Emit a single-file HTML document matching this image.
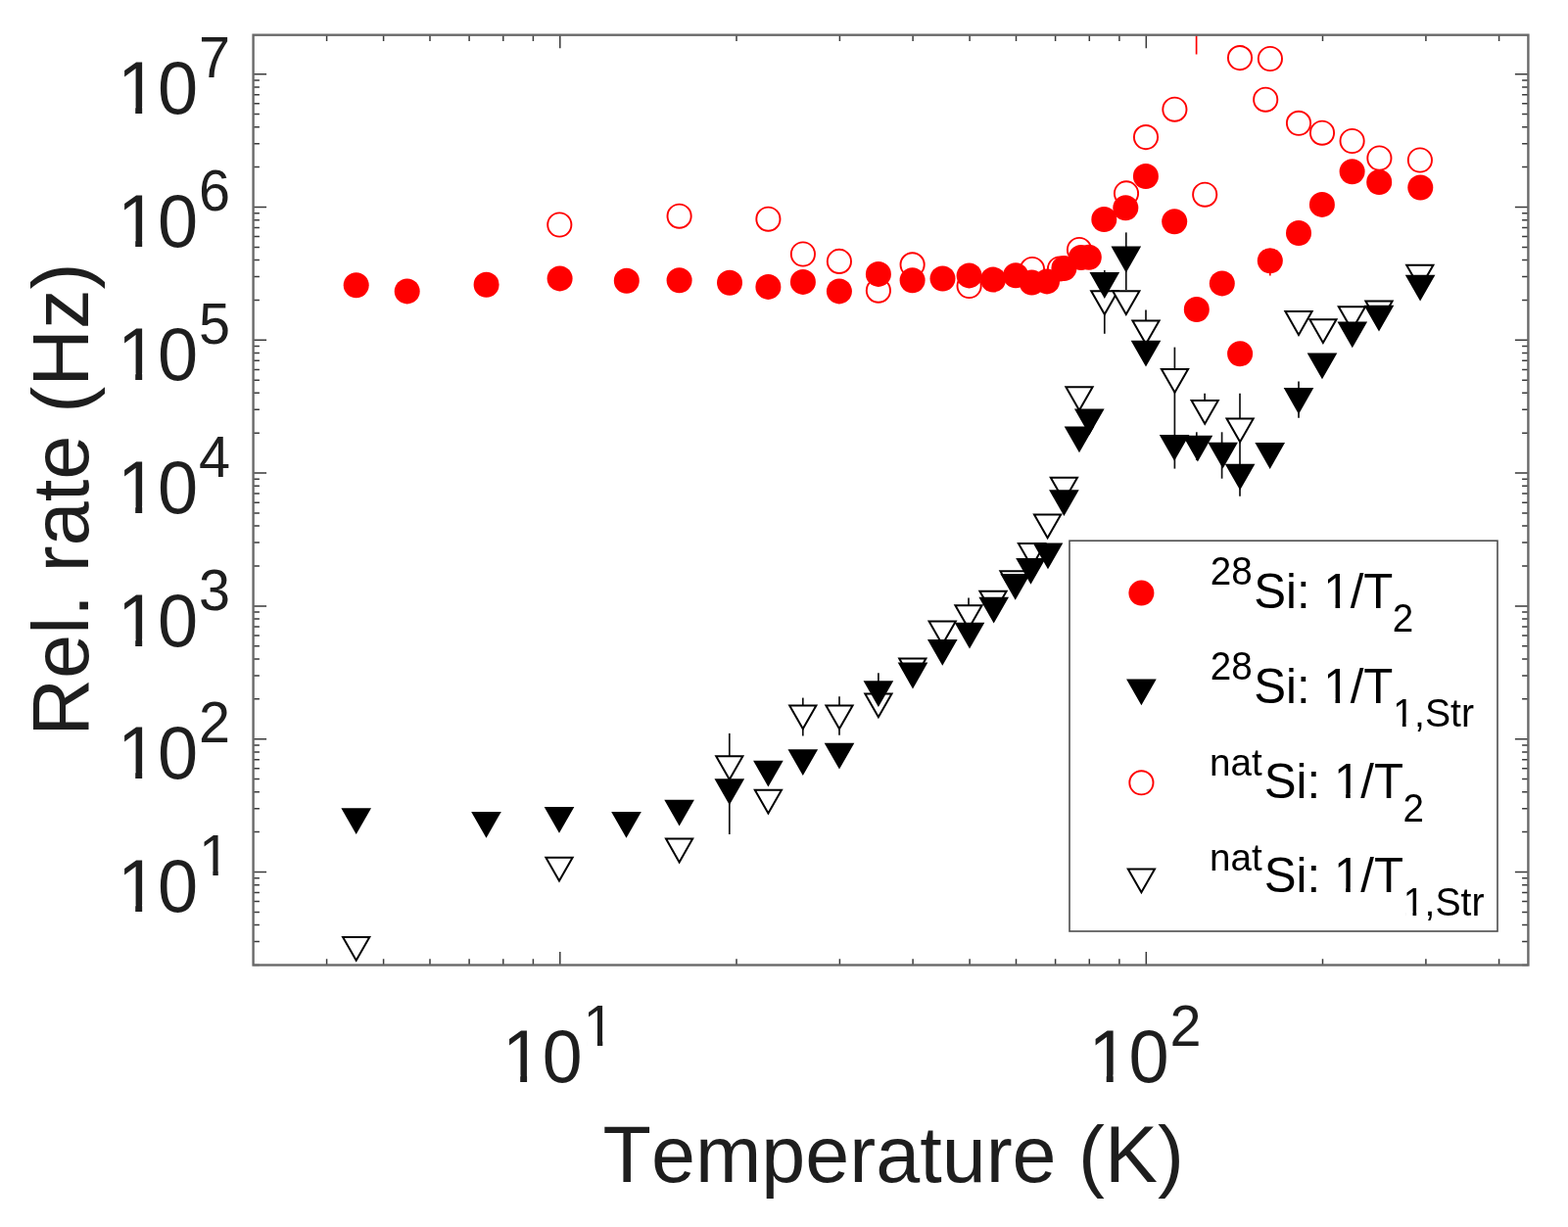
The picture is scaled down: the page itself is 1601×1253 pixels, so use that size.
<!DOCTYPE html>
<html><head><meta charset="utf-8"><title>Rel. rate vs Temperature</title>
<style>html,body{margin:0;padding:0;background:#fff;overflow:hidden;}svg{display:block;}text{font-family:"Liberation Sans",Arial,Helvetica,sans-serif;font-kerning:none;font-feature-settings:"kern" 0;}</style></head><body>
<svg width="1601" height="1253" viewBox="0 0 1601 1253">
<rect x="0" y="0" width="1601" height="1253" fill="#fff"/>
<path d="M333.6 985.5V979.2M333.6 35.7V42.0M391.6 985.5V979.2M391.6 35.7V42.0M439.0 985.5V979.2M439.0 35.7V42.0M479.1 985.5V979.2M479.1 35.7V42.0M513.8 985.5V979.2M513.8 35.7V42.0M544.4 985.5V979.2M544.4 35.7V42.0M571.8 985.5V972.0M571.8 35.7V49.2M752.0 985.5V979.2M752.0 35.7V42.0M857.4 985.5V979.2M857.4 35.7V42.0M932.1 985.5V979.2M932.1 35.7V42.0M990.1 985.5V979.2M990.1 35.7V42.0M1037.5 985.5V979.2M1037.5 35.7V42.0M1077.6 985.5V979.2M1077.6 35.7V42.0M1112.3 985.5V979.2M1112.3 35.7V42.0M1142.9 985.5V979.2M1142.9 35.7V42.0M1170.3 985.5V972.0M1170.3 35.7V49.2M1350.5 985.5V979.2M1350.5 35.7V42.0M1455.9 985.5V979.2M1455.9 35.7V42.0M1530.6 985.5V979.2M1530.6 35.7V42.0M258.6 985.4H264.9M1560.4 985.4H1554.1M258.6 961.5H264.9M1560.4 961.5H1554.1M258.6 944.5H264.9M1560.4 944.5H1554.1M258.6 931.4H264.9M1560.4 931.4H1554.1M258.6 920.6H264.9M1560.4 920.6H1554.1M258.6 911.5H264.9M1560.4 911.5H1554.1M258.6 903.7H264.9M1560.4 903.7H1554.1M258.6 896.7H264.9M1560.4 896.7H1554.1M258.6 890.5H272.1M1560.4 890.5H1546.9M258.6 849.6H264.9M1560.4 849.6H1554.1M258.6 825.7H264.9M1560.4 825.7H1554.1M258.6 808.7H264.9M1560.4 808.7H1554.1M258.6 795.6H264.9M1560.4 795.6H1554.1M258.6 784.8H264.9M1560.4 784.8H1554.1M258.6 775.7H264.9M1560.4 775.7H1554.1M258.6 767.9H264.9M1560.4 767.9H1554.1M258.6 760.9H264.9M1560.4 760.9H1554.1M258.6 754.7H272.1M1560.4 754.7H1546.9M258.6 713.8H264.9M1560.4 713.8H1554.1M258.6 689.9H264.9M1560.4 689.9H1554.1M258.6 672.9H264.9M1560.4 672.9H1554.1M258.6 659.8H264.9M1560.4 659.8H1554.1M258.6 649.0H264.9M1560.4 649.0H1554.1M258.6 639.9H264.9M1560.4 639.9H1554.1M258.6 632.1H264.9M1560.4 632.1H1554.1M258.6 625.1H264.9M1560.4 625.1H1554.1M258.6 618.9H272.1M1560.4 618.9H1546.9M258.6 578.0H264.9M1560.4 578.0H1554.1M258.6 554.1H264.9M1560.4 554.1H1554.1M258.6 537.1H264.9M1560.4 537.1H1554.1M258.6 524.0H264.9M1560.4 524.0H1554.1M258.6 513.2H264.9M1560.4 513.2H1554.1M258.6 504.1H264.9M1560.4 504.1H1554.1M258.6 496.3H264.9M1560.4 496.3H1554.1M258.6 489.3H264.9M1560.4 489.3H1554.1M258.6 483.1H272.1M1560.4 483.1H1546.9M258.6 442.2H264.9M1560.4 442.2H1554.1M258.6 418.3H264.9M1560.4 418.3H1554.1M258.6 401.3H264.9M1560.4 401.3H1554.1M258.6 388.2H264.9M1560.4 388.2H1554.1M258.6 377.4H264.9M1560.4 377.4H1554.1M258.6 368.3H264.9M1560.4 368.3H1554.1M258.6 360.5H264.9M1560.4 360.5H1554.1M258.6 353.5H264.9M1560.4 353.5H1554.1M258.6 347.3H272.1M1560.4 347.3H1546.9M258.6 306.4H264.9M1560.4 306.4H1554.1M258.6 282.5H264.9M1560.4 282.5H1554.1M258.6 265.5H264.9M1560.4 265.5H1554.1M258.6 252.4H264.9M1560.4 252.4H1554.1M258.6 241.6H264.9M1560.4 241.6H1554.1M258.6 232.5H264.9M1560.4 232.5H1554.1M258.6 224.7H264.9M1560.4 224.7H1554.1M258.6 217.7H264.9M1560.4 217.7H1554.1M258.6 211.5H272.1M1560.4 211.5H1546.9M258.6 170.6H264.9M1560.4 170.6H1554.1M258.6 146.7H264.9M1560.4 146.7H1554.1M258.6 129.7H264.9M1560.4 129.7H1554.1M258.6 116.6H264.9M1560.4 116.6H1554.1M258.6 105.8H264.9M1560.4 105.8H1554.1M258.6 96.7H264.9M1560.4 96.7H1554.1M258.6 88.9H264.9M1560.4 88.9H1554.1M258.6 81.9H264.9M1560.4 81.9H1554.1M258.6 75.7H272.1M1560.4 75.7H1546.9" stroke="#3a3a3a" stroke-width="1.5" fill="none"/>
<line x1="744.8" y1="748.9" x2="744.8" y2="852.0" stroke="#111" stroke-width="1.7"/>
<line x1="819.8" y1="712.6" x2="819.8" y2="751.5" stroke="#111" stroke-width="1.7"/>
<line x1="857.0" y1="711.3" x2="857.0" y2="750.7" stroke="#111" stroke-width="1.7"/>
<line x1="896.9" y1="687.3" x2="896.9" y2="720.0" stroke="#111" stroke-width="1.7"/>
<line x1="989.0" y1="610.5" x2="989.0" y2="640.0" stroke="#111" stroke-width="1.7"/>
<line x1="1127.8" y1="276.0" x2="1127.8" y2="340.8" stroke="#111" stroke-width="1.7"/>
<line x1="1149.8" y1="237.4" x2="1149.8" y2="296.0" stroke="#111" stroke-width="1.7"/>
<line x1="1170.0" y1="316.4" x2="1170.0" y2="362.0" stroke="#111" stroke-width="1.7"/>
<line x1="1199.4" y1="354.6" x2="1199.4" y2="478.6" stroke="#111" stroke-width="1.7"/>
<line x1="1230.1" y1="401.8" x2="1230.1" y2="421.0" stroke="#111" stroke-width="1.7"/>
<line x1="1221.8" y1="441.3" x2="1221.8" y2="470.0" stroke="#111" stroke-width="1.7"/>
<line x1="1247.6" y1="441.3" x2="1247.6" y2="488.7" stroke="#111" stroke-width="1.7"/>
<line x1="1266.0" y1="401.8" x2="1266.0" y2="506.7" stroke="#111" stroke-width="1.7"/>
<line x1="1326.0" y1="389.6" x2="1326.0" y2="426.8" stroke="#111" stroke-width="1.7"/>
<line x1="1221.6" y1="35.7" x2="1221.6" y2="55.5" stroke="#ff0000" stroke-width="1.7"/>
<line x1="1296.8" y1="270.0" x2="1296.8" y2="281.5" stroke="#ff0000" stroke-width="1.7"/>
<circle cx="571.3" cy="229.5" r="12.1" fill="#fff" stroke="#ff0000" stroke-width="1.9"/>
<circle cx="693.6" cy="220.7" r="12.1" fill="#fff" stroke="#ff0000" stroke-width="1.9"/>
<circle cx="784.4" cy="223.7" r="12.1" fill="#fff" stroke="#ff0000" stroke-width="1.9"/>
<circle cx="819.9" cy="259.5" r="12.1" fill="#fff" stroke="#ff0000" stroke-width="1.9"/>
<circle cx="856.9" cy="266.9" r="12.1" fill="#fff" stroke="#ff0000" stroke-width="1.9"/>
<circle cx="896.9" cy="296.7" r="12.1" fill="#fff" stroke="#ff0000" stroke-width="1.9"/>
<circle cx="931.6" cy="270.3" r="12.1" fill="#fff" stroke="#ff0000" stroke-width="1.9"/>
<circle cx="989.6" cy="292.0" r="12.1" fill="#fff" stroke="#ff0000" stroke-width="1.9"/>
<circle cx="1054.0" cy="275.0" r="12.1" fill="#fff" stroke="#ff0000" stroke-width="1.9"/>
<circle cx="1082.0" cy="274.5" r="12.1" fill="#fff" stroke="#ff0000" stroke-width="1.9"/>
<circle cx="1102.0" cy="255.0" r="12.1" fill="#fff" stroke="#ff0000" stroke-width="1.9"/>
<circle cx="1150.0" cy="197.4" r="12.1" fill="#fff" stroke="#ff0000" stroke-width="1.9"/>
<circle cx="1170.0" cy="140.1" r="12.1" fill="#fff" stroke="#ff0000" stroke-width="1.9"/>
<circle cx="1199.4" cy="111.7" r="12.1" fill="#fff" stroke="#ff0000" stroke-width="1.9"/>
<circle cx="1230.2" cy="198.7" r="12.1" fill="#fff" stroke="#ff0000" stroke-width="1.9"/>
<circle cx="1266.0" cy="59.1" r="12.1" fill="#fff" stroke="#ff0000" stroke-width="1.9"/>
<circle cx="1296.9" cy="60.0" r="12.1" fill="#fff" stroke="#ff0000" stroke-width="1.9"/>
<circle cx="1292.2" cy="101.7" r="12.1" fill="#fff" stroke="#ff0000" stroke-width="1.9"/>
<circle cx="1326.0" cy="125.8" r="12.1" fill="#fff" stroke="#ff0000" stroke-width="1.9"/>
<circle cx="1350.0" cy="135.7" r="12.1" fill="#fff" stroke="#ff0000" stroke-width="1.9"/>
<circle cx="1380.6" cy="144.0" r="12.1" fill="#fff" stroke="#ff0000" stroke-width="1.9"/>
<circle cx="1408.4" cy="161.5" r="12.1" fill="#fff" stroke="#ff0000" stroke-width="1.9"/>
<circle cx="1449.9" cy="163.5" r="12.1" fill="#fff" stroke="#ff0000" stroke-width="1.9"/>
<polygon points="350.1,956.9 377.3,956.9 363.7,980.7" fill="#fff" stroke="#000" stroke-width="2" stroke-linejoin="miter"/>
<polygon points="557.4,875.8 584.6,875.8 571.0,899.6" fill="#fff" stroke="#000" stroke-width="2" stroke-linejoin="miter"/>
<polygon points="680.0,856.6 707.2,856.6 693.6,880.4" fill="#fff" stroke="#000" stroke-width="2" stroke-linejoin="miter"/>
<polygon points="731.2,772.3 758.4,772.3 744.8,796.1" fill="#fff" stroke="#000" stroke-width="2" stroke-linejoin="miter"/>
<polygon points="770.8,806.7 798.0,806.7 784.4,830.5" fill="#fff" stroke="#000" stroke-width="2" stroke-linejoin="miter"/>
<polygon points="806.2,720.4 833.4,720.4 819.8,744.2" fill="#fff" stroke="#000" stroke-width="2" stroke-linejoin="miter"/>
<polygon points="843.4,720.4 870.6,720.4 857.0,744.2" fill="#fff" stroke="#000" stroke-width="2" stroke-linejoin="miter"/>
<polygon points="883.3,708.5 910.5,708.5 896.9,732.3" fill="#fff" stroke="#000" stroke-width="2" stroke-linejoin="miter"/>
<polygon points="918.2,672.6 945.4,672.6 931.8,696.4" fill="#fff" stroke="#000" stroke-width="2" stroke-linejoin="miter"/>
<polygon points="948.6,634.5 975.8,634.5 962.2,658.3" fill="#fff" stroke="#000" stroke-width="2" stroke-linejoin="miter"/>
<polygon points="975.4,618.2 1002.6,618.2 989.0,642.0" fill="#fff" stroke="#000" stroke-width="2" stroke-linejoin="miter"/>
<polygon points="1000.4,603.8 1027.6,603.8 1014.0,627.6" fill="#fff" stroke="#000" stroke-width="2" stroke-linejoin="miter"/>
<polygon points="1021.4,583.2 1048.6,583.2 1035.0,607.0" fill="#fff" stroke="#000" stroke-width="2" stroke-linejoin="miter"/>
<polygon points="1039.9,555.0 1067.1,555.0 1053.5,578.8" fill="#fff" stroke="#000" stroke-width="2" stroke-linejoin="miter"/>
<polygon points="1056.0,525.4 1083.2,525.4 1069.6,549.2" fill="#fff" stroke="#000" stroke-width="2" stroke-linejoin="miter"/>
<polygon points="1072.8,487.7 1100.0,487.7 1086.4,511.5" fill="#fff" stroke="#000" stroke-width="2" stroke-linejoin="miter"/>
<polygon points="1088.4,395.2 1115.6,395.2 1102.0,419.0" fill="#fff" stroke="#000" stroke-width="2" stroke-linejoin="miter"/>
<polygon points="1114.2,297.3 1141.4,297.3 1127.8,321.1" fill="#fff" stroke="#000" stroke-width="2" stroke-linejoin="miter"/>
<polygon points="1136.2,297.3 1163.4,297.3 1149.8,321.1" fill="#fff" stroke="#000" stroke-width="2" stroke-linejoin="miter"/>
<polygon points="1156.4,327.5 1183.6,327.5 1170.0,351.3" fill="#fff" stroke="#000" stroke-width="2" stroke-linejoin="miter"/>
<polygon points="1185.9,377.0 1213.1,377.0 1199.5,400.8" fill="#fff" stroke="#000" stroke-width="2" stroke-linejoin="miter"/>
<polygon points="1216.6,409.0 1243.8,409.0 1230.2,432.8" fill="#fff" stroke="#000" stroke-width="2" stroke-linejoin="miter"/>
<polygon points="1252.5,427.5 1279.7,427.5 1266.1,451.3" fill="#fff" stroke="#000" stroke-width="2" stroke-linejoin="miter"/>
<polygon points="1312.4,318.1 1339.6,318.1 1326.0,341.9" fill="#fff" stroke="#000" stroke-width="2" stroke-linejoin="miter"/>
<polygon points="1337.3,326.3 1364.5,326.3 1350.9,350.1" fill="#fff" stroke="#000" stroke-width="2" stroke-linejoin="miter"/>
<polygon points="1366.8,313.2 1394.0,313.2 1380.4,337.0" fill="#fff" stroke="#000" stroke-width="2" stroke-linejoin="miter"/>
<polygon points="1394.4,307.5 1421.6,307.5 1408.0,331.3" fill="#fff" stroke="#000" stroke-width="2" stroke-linejoin="miter"/>
<polygon points="1436.2,270.7 1463.4,270.7 1449.8,294.5" fill="#fff" stroke="#000" stroke-width="2" stroke-linejoin="miter"/>
<circle cx="363.7" cy="291.2" r="13.0" fill="#ff0000"/>
<circle cx="415.7" cy="297.4" r="13.0" fill="#ff0000"/>
<circle cx="496.6" cy="290.7" r="13.0" fill="#ff0000"/>
<circle cx="571.6" cy="284.4" r="13.0" fill="#ff0000"/>
<circle cx="639.8" cy="286.7" r="13.0" fill="#ff0000"/>
<circle cx="693.6" cy="286.2" r="13.0" fill="#ff0000"/>
<circle cx="745.0" cy="288.7" r="13.0" fill="#ff0000"/>
<circle cx="784.4" cy="292.9" r="13.0" fill="#ff0000"/>
<circle cx="819.9" cy="287.9" r="13.0" fill="#ff0000"/>
<circle cx="856.9" cy="297.4" r="13.0" fill="#ff0000"/>
<circle cx="896.9" cy="279.9" r="13.0" fill="#ff0000"/>
<circle cx="931.6" cy="286.2" r="13.0" fill="#ff0000"/>
<circle cx="962.5" cy="284.5" r="13.0" fill="#ff0000"/>
<circle cx="989.6" cy="281.4" r="13.0" fill="#ff0000"/>
<circle cx="1014.1" cy="285.5" r="13.0" fill="#ff0000"/>
<circle cx="1037.1" cy="281.3" r="13.0" fill="#ff0000"/>
<circle cx="1053.5" cy="288.6" r="13.0" fill="#ff0000"/>
<circle cx="1069.0" cy="287.4" r="13.0" fill="#ff0000"/>
<circle cx="1086.4" cy="274.0" r="13.0" fill="#ff0000"/>
<circle cx="1103.8" cy="263.0" r="13.0" fill="#ff0000"/>
<circle cx="1111.8" cy="262.7" r="13.0" fill="#ff0000"/>
<circle cx="1127.3" cy="224.0" r="13.0" fill="#ff0000"/>
<circle cx="1149.3" cy="212.3" r="13.0" fill="#ff0000"/>
<circle cx="1169.9" cy="180.0" r="13.0" fill="#ff0000"/>
<circle cx="1199.2" cy="226.3" r="13.0" fill="#ff0000"/>
<circle cx="1221.8" cy="316.0" r="13.0" fill="#ff0000"/>
<circle cx="1247.8" cy="289.4" r="13.0" fill="#ff0000"/>
<circle cx="1266.1" cy="361.2" r="13.0" fill="#ff0000"/>
<circle cx="1296.8" cy="266.3" r="13.0" fill="#ff0000"/>
<circle cx="1326.0" cy="238.0" r="13.0" fill="#ff0000"/>
<circle cx="1349.9" cy="208.9" r="13.0" fill="#ff0000"/>
<circle cx="1380.6" cy="175.2" r="13.0" fill="#ff0000"/>
<circle cx="1408.2" cy="186.0" r="13.0" fill="#ff0000"/>
<circle cx="1450.3" cy="191.5" r="13.0" fill="#ff0000"/>
<polygon points="350.1,826.2 377.3,826.2 363.7,850.0" fill="#000" stroke="#000" stroke-width="2" stroke-linejoin="miter"/>
<polygon points="482.9,829.9 510.1,829.9 496.5,853.7" fill="#000" stroke="#000" stroke-width="2" stroke-linejoin="miter"/>
<polygon points="557.4,825.0 584.6,825.0 571.0,848.8" fill="#000" stroke="#000" stroke-width="2" stroke-linejoin="miter"/>
<polygon points="625.9,830.0 653.1,830.0 639.5,853.8" fill="#000" stroke="#000" stroke-width="2" stroke-linejoin="miter"/>
<polygon points="680.0,817.8 707.2,817.8 693.6,841.6" fill="#000" stroke="#000" stroke-width="2" stroke-linejoin="miter"/>
<polygon points="731.2,796.2 758.4,796.2 744.8,820.0" fill="#000" stroke="#000" stroke-width="2" stroke-linejoin="miter"/>
<polygon points="770.8,777.8 798.0,777.8 784.4,801.6" fill="#000" stroke="#000" stroke-width="2" stroke-linejoin="miter"/>
<polygon points="806.2,766.3 833.4,766.3 819.8,790.1" fill="#000" stroke="#000" stroke-width="2" stroke-linejoin="miter"/>
<polygon points="843.4,759.8 870.6,759.8 857.0,783.6" fill="#000" stroke="#000" stroke-width="2" stroke-linejoin="miter"/>
<polygon points="883.3,696.2 910.5,696.2 896.9,720.0" fill="#000" stroke="#000" stroke-width="2" stroke-linejoin="miter"/>
<polygon points="918.4,677.6 945.6,677.6 932.0,701.4" fill="#000" stroke="#000" stroke-width="2" stroke-linejoin="miter"/>
<polygon points="948.7,654.0 975.9,654.0 962.3,677.8" fill="#000" stroke="#000" stroke-width="2" stroke-linejoin="miter"/>
<polygon points="976.4,636.8 1003.6,636.8 990.0,660.6" fill="#000" stroke="#000" stroke-width="2" stroke-linejoin="miter"/>
<polygon points="1001.1,610.7 1028.3,610.7 1014.7,634.5" fill="#000" stroke="#000" stroke-width="2" stroke-linejoin="miter"/>
<polygon points="1023.1,587.0 1050.3,587.0 1036.7,610.8" fill="#000" stroke="#000" stroke-width="2" stroke-linejoin="miter"/>
<polygon points="1038.9,570.9 1066.1,570.9 1052.5,594.7" fill="#000" stroke="#000" stroke-width="2" stroke-linejoin="miter"/>
<polygon points="1056.4,555.5 1083.6,555.5 1070.0,579.3" fill="#000" stroke="#000" stroke-width="2" stroke-linejoin="miter"/>
<polygon points="1072.8,501.2 1100.0,501.2 1086.4,525.0" fill="#000" stroke="#000" stroke-width="2" stroke-linejoin="miter"/>
<polygon points="1088.4,436.5 1115.6,436.5 1102.0,460.3" fill="#000" stroke="#000" stroke-width="2" stroke-linejoin="miter"/>
<polygon points="1098.7,418.5 1125.9,418.5 1112.3,442.3" fill="#000" stroke="#000" stroke-width="2" stroke-linejoin="miter"/>
<polygon points="1114.2,279.1 1141.4,279.1 1127.8,302.9" fill="#000" stroke="#000" stroke-width="2" stroke-linejoin="miter"/>
<polygon points="1136.2,252.6 1163.4,252.6 1149.8,276.4" fill="#000" stroke="#000" stroke-width="2" stroke-linejoin="miter"/>
<polygon points="1156.4,348.7 1183.6,348.7 1170.0,372.5" fill="#000" stroke="#000" stroke-width="2" stroke-linejoin="miter"/>
<polygon points="1185.5,445.0 1212.7,445.0 1199.1,468.8" fill="#000" stroke="#000" stroke-width="2" stroke-linejoin="miter"/>
<polygon points="1209.3,445.8 1236.5,445.8 1222.9,469.6" fill="#000" stroke="#000" stroke-width="2" stroke-linejoin="miter"/>
<polygon points="1235.0,452.8 1262.2,452.8 1248.6,476.6" fill="#000" stroke="#000" stroke-width="2" stroke-linejoin="miter"/>
<polygon points="1252.5,474.7 1279.7,474.7 1266.1,498.5" fill="#000" stroke="#000" stroke-width="2" stroke-linejoin="miter"/>
<polygon points="1283.1,453.1 1310.3,453.1 1296.7,476.9" fill="#000" stroke="#000" stroke-width="2" stroke-linejoin="miter"/>
<polygon points="1312.4,397.1 1339.6,397.1 1326.0,420.9" fill="#000" stroke="#000" stroke-width="2" stroke-linejoin="miter"/>
<polygon points="1336.4,361.4 1363.6,361.4 1350.0,385.2" fill="#000" stroke="#000" stroke-width="2" stroke-linejoin="miter"/>
<polygon points="1367.2,329.5 1394.4,329.5 1380.8,353.3" fill="#000" stroke="#000" stroke-width="2" stroke-linejoin="miter"/>
<polygon points="1394.4,312.8 1421.6,312.8 1408.0,336.6" fill="#000" stroke="#000" stroke-width="2" stroke-linejoin="miter"/>
<polygon points="1436.5,281.7 1463.7,281.7 1450.1,305.5" fill="#000" stroke="#000" stroke-width="2" stroke-linejoin="miter"/>
<rect x="258.6" y="35.7" width="1301.8" height="949.8" fill="none" stroke="#6a6a6a" stroke-width="2.4"/>
<rect x="1092.0" y="552.2" width="437.0" height="398.8" fill="#fff" stroke="#4d4d4d" stroke-width="1.6"/>
<circle cx="1165.4" cy="605.6" r="13.0" fill="#ff0000"/>
<polygon points="1151.8,694.4 1179.0,694.4 1165.4,718.2" fill="#000" stroke="#000" stroke-width="2" stroke-linejoin="miter"/>
<circle cx="1165.4" cy="799.3" r="12.1" fill="#fff" stroke="#ff0000" stroke-width="1.9"/>
<polygon points="1151.8,887.5 1179.0,887.5 1165.4,911.3" fill="#fff" stroke="#000" stroke-width="2" stroke-linejoin="miter"/>
<g transform="translate(1235.80 597.20) scale(1 1.04)"><text x="0" y="0" fill="#000" font-size="38.6">28</text></g>
<g transform="translate(1280.20 621.40) scale(1 1.02)"><text x="0" y="0" fill="#000" font-size="49.2">Si: 1/T</text><rect x="74.05" y="-4.53" width="9.25" height="5.22" fill="#fff"/><rect x="87.92" y="-4.53" width="8.86" height="5.22" fill="#fff"/></g>
<g transform="translate(1421.79 645.40) scale(1 1.04)"><text x="0" y="0" fill="#000" font-size="38.6">2</text></g>
<g transform="translate(1235.80 693.90) scale(1 1.04)"><text x="0" y="0" fill="#000" font-size="38.6">28</text></g>
<g transform="translate(1280.20 718.10) scale(1 1.02)"><text x="0" y="0" fill="#000" font-size="49.2">Si: 1/T</text><rect x="74.05" y="-4.53" width="9.25" height="5.22" fill="#fff"/><rect x="87.92" y="-4.53" width="8.86" height="5.22" fill="#fff"/></g>
<g transform="translate(1422.19 742.10) scale(1 1.04)"><text x="0" y="0" fill="#000" font-size="39.2">1,Str</text><rect x="2.35" y="-3.61" width="7.37" height="4.16" fill="#fff"/><rect x="13.41" y="-3.61" width="7.06" height="4.16" fill="#fff"/></g>
<g transform="translate(1235.00 792.00) scale(1 1.0)"><text x="0" y="0" fill="#000" font-size="38.6">nat</text></g>
<g transform="translate(1290.80 814.80) scale(1 1.02)"><text x="0" y="0" fill="#000" font-size="49.2">Si: 1/T</text><rect x="74.05" y="-4.53" width="9.25" height="5.22" fill="#fff"/><rect x="87.92" y="-4.53" width="8.86" height="5.22" fill="#fff"/></g>
<g transform="translate(1432.39 838.80) scale(1 1.04)"><text x="0" y="0" fill="#000" font-size="38.6">2</text></g>
<g transform="translate(1235.00 888.50) scale(1 1.0)"><text x="0" y="0" fill="#000" font-size="38.6">nat</text></g>
<g transform="translate(1290.80 911.30) scale(1 1.02)"><text x="0" y="0" fill="#000" font-size="49.2">Si: 1/T</text><rect x="74.05" y="-4.53" width="9.25" height="5.22" fill="#fff"/><rect x="87.92" y="-4.53" width="8.86" height="5.22" fill="#fff"/></g>
<g transform="translate(1432.79 935.30) scale(1 1.04)"><text x="0" y="0" fill="#000" font-size="39.2">1,Str</text><rect x="2.35" y="-3.61" width="7.37" height="4.16" fill="#fff"/><rect x="13.41" y="-3.61" width="7.06" height="4.16" fill="#fff"/></g>
<g transform="translate(119.90 931.10) scale(1 1.04)"><text x="0" y="0" fill="#1e1e1e" font-size="73.9">10</text><rect x="4.43" y="-6.80" width="13.89" height="7.83" fill="#fff"/><rect x="25.27" y="-6.80" width="13.30" height="7.83" fill="#fff"/></g>
<g transform="translate(203.08 894.20) scale(1 1.04)"><text x="0" y="0" fill="#1e1e1e" font-size="57.6">1</text><rect x="3.46" y="-5.30" width="10.83" height="6.11" fill="#fff"/><rect x="19.70" y="-5.30" width="10.37" height="6.11" fill="#fff"/></g>
<g transform="translate(119.90 795.30) scale(1 1.04)"><text x="0" y="0" fill="#1e1e1e" font-size="73.9">10</text><rect x="4.43" y="-6.80" width="13.89" height="7.83" fill="#fff"/><rect x="25.27" y="-6.80" width="13.30" height="7.83" fill="#fff"/></g>
<g transform="translate(203.08 758.40) scale(1 1.04)"><text x="0" y="0" fill="#1e1e1e" font-size="57.6">2</text></g>
<g transform="translate(119.90 659.50) scale(1 1.04)"><text x="0" y="0" fill="#1e1e1e" font-size="73.9">10</text><rect x="4.43" y="-6.80" width="13.89" height="7.83" fill="#fff"/><rect x="25.27" y="-6.80" width="13.30" height="7.83" fill="#fff"/></g>
<g transform="translate(203.08 622.60) scale(1 1.04)"><text x="0" y="0" fill="#1e1e1e" font-size="57.6">3</text></g>
<g transform="translate(119.90 523.70) scale(1 1.04)"><text x="0" y="0" fill="#1e1e1e" font-size="73.9">10</text><rect x="4.43" y="-6.80" width="13.89" height="7.83" fill="#fff"/><rect x="25.27" y="-6.80" width="13.30" height="7.83" fill="#fff"/></g>
<g transform="translate(203.08 486.80) scale(1 1.04)"><text x="0" y="0" fill="#1e1e1e" font-size="57.6">4</text></g>
<g transform="translate(119.90 387.90) scale(1 1.04)"><text x="0" y="0" fill="#1e1e1e" font-size="73.9">10</text><rect x="4.43" y="-6.80" width="13.89" height="7.83" fill="#fff"/><rect x="25.27" y="-6.80" width="13.30" height="7.83" fill="#fff"/></g>
<g transform="translate(203.08 351.00) scale(1 1.04)"><text x="0" y="0" fill="#1e1e1e" font-size="57.6">5</text></g>
<g transform="translate(119.90 252.10) scale(1 1.04)"><text x="0" y="0" fill="#1e1e1e" font-size="73.9">10</text><rect x="4.43" y="-6.80" width="13.89" height="7.83" fill="#fff"/><rect x="25.27" y="-6.80" width="13.30" height="7.83" fill="#fff"/></g>
<g transform="translate(203.08 215.20) scale(1 1.04)"><text x="0" y="0" fill="#1e1e1e" font-size="57.6">6</text></g>
<g transform="translate(119.90 116.30) scale(1 1.04)"><text x="0" y="0" fill="#1e1e1e" font-size="73.9">10</text><rect x="4.43" y="-6.80" width="13.89" height="7.83" fill="#fff"/><rect x="25.27" y="-6.80" width="13.30" height="7.83" fill="#fff"/></g>
<g transform="translate(203.08 79.40) scale(1 1.04)"><text x="0" y="0" fill="#1e1e1e" font-size="57.6">7</text></g>
<g transform="translate(513.00 1104.50) scale(1 1.04)"><text x="0" y="0" fill="#1e1e1e" font-size="73.4">10</text><rect x="4.40" y="-6.75" width="13.80" height="7.78" fill="#fff"/><rect x="25.10" y="-6.75" width="13.21" height="7.78" fill="#fff"/></g>
<g transform="translate(595.62 1067.90) scale(1 1.04)"><text x="0" y="0" fill="#1e1e1e" font-size="57.6">1</text><rect x="3.46" y="-5.30" width="10.83" height="6.11" fill="#fff"/><rect x="19.70" y="-5.30" width="10.37" height="6.11" fill="#fff"/></g>
<g transform="translate(1111.40 1104.50) scale(1 1.04)"><text x="0" y="0" fill="#1e1e1e" font-size="73.9">10</text><rect x="4.43" y="-6.80" width="13.89" height="7.83" fill="#fff"/><rect x="25.27" y="-6.80" width="13.30" height="7.83" fill="#fff"/></g>
<g transform="translate(1194.58 1067.90) scale(1 1.04)"><text x="0" y="0" fill="#1e1e1e" font-size="57.6">2</text></g>
<g transform="translate(615.50 1207.10) scale(1 1.0)"><text x="0" y="0" fill="#1e1e1e" font-size="80.9">Temperature (K)</text></g>
<g transform="translate(90.40 751.70) rotate(-90) scale(1 1.0)"><text x="0" y="0" fill="#1e1e1e" font-size="81.3">Rel. rate (Hz)</text></g>
</svg></body></html>
